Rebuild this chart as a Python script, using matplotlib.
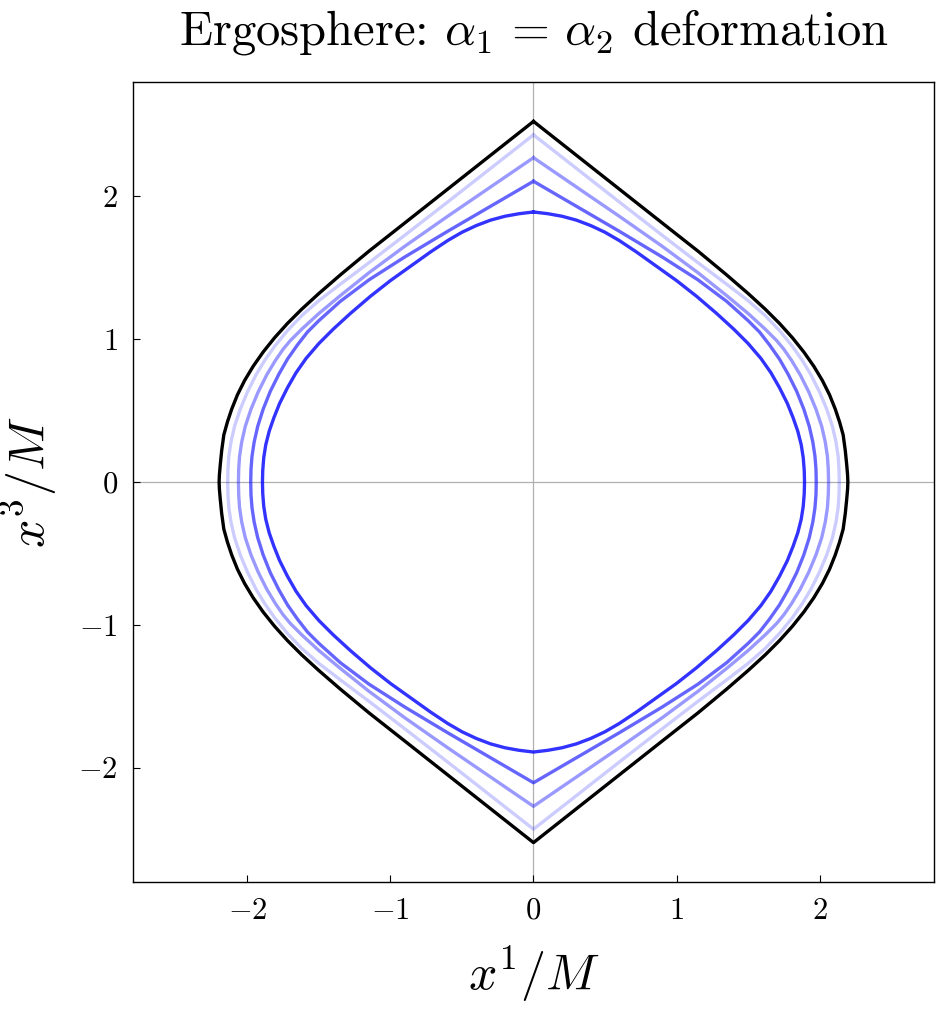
import numpy as np
import matplotlib.pyplot as plt

plt.rcParams['font.family'] = 'serif'
plt.rcParams['font.serif'] = ['cmr10']
plt.rcParams['mathtext.fontset'] = 'cm'
plt.rcParams['axes.formatter.use_mathtext'] = True

# Quadrant points (x1/M, x3/M), from the pole down to the equator.
# The full contour is symmetric in both axes.
kerr_x = [0.0, 0.3, 0.6, 0.9, 1.15, 1.35, 1.5, 1.62, 1.72, 1.81, 1.89, 1.96, 2.02, 2.07,
          2.11, 2.14, 2.165, 2.18, 2.19, 2.196, 2.198]
kerr_y = [2.524, 2.287, 2.05, 1.813, 1.616, 1.45, 1.32, 1.21, 1.11, 1.01, 0.91, 0.81, 0.71, 0.61,
          0.51, 0.42, 0.33, 0.22, 0.12, 0.05, 0.0]

def1_x = [0.0, 0.3, 0.6, 0.9, 1.15, 1.35, 1.5, 1.62, 1.72, 1.81, 1.88, 1.94, 2.0, 2.05,
          2.09, 2.115, 2.13, 2.136, 2.138]
def1_y = [2.43, 2.195, 1.96, 1.727, 1.535, 1.385, 1.27, 1.165, 1.06, 0.95, 0.85, 0.75, 0.63, 0.51,
          0.39, 0.28, 0.18, 0.09, 0.0]

def2_x = [0.0, 0.3, 0.6, 0.9, 1.15, 1.35, 1.5, 1.62, 1.70, 1.75, 1.805, 1.865, 1.925, 1.975,
          2.015, 2.04, 2.055, 2.061, 2.063]
def2_y = [2.27, 2.065, 1.86, 1.65, 1.465, 1.305, 1.18, 1.07, 0.99, 0.93, 0.85, 0.75, 0.63, 0.51,
          0.39, 0.28, 0.18, 0.09, 0.0]

def3_x = [0.0, 0.3, 0.6, 0.9, 1.15, 1.35, 1.5, 1.58, 1.65, 1.72, 1.78, 1.84, 1.89, 1.928,
          1.953, 1.968, 1.975, 1.977]
def3_y = [2.105, 1.93, 1.755, 1.575, 1.415, 1.265, 1.13, 1.05, 0.96, 0.86, 0.755, 0.635, 0.51, 0.39,
          0.28, 0.18, 0.09, 0.0]

def4_x = [0.0, 0.1, 0.2, 0.3, 0.4, 0.5, 0.6, 0.72, 0.86, 1.0, 1.14, 1.28, 1.4, 1.5,
          1.59, 1.66, 1.72, 1.775, 1.815, 1.848, 1.872, 1.886, 1.893, 1.895]
def4_y = [1.89, 1.878, 1.86, 1.833, 1.795, 1.748, 1.69, 1.61, 1.51, 1.41, 1.3, 1.18, 1.07, 0.97,
          0.865, 0.765, 0.66, 0.55, 0.45, 0.355, 0.26, 0.17, 0.08, 0.0]

curves = [
    (def1_x, def1_y, 'blue', 0.2),
    (def2_x, def2_y, 'blue', 0.4),
    (def3_x, def3_y, 'blue', 0.6),
    (def4_x, def4_y, 'blue', 0.8),
    (kerr_x, kerr_y, 'black', 1.0),
]


def full_contour(qx, qy):
    qx = np.asarray(qx)
    qy = np.asarray(qy)
    # right half: pole -> equator -> south pole
    rx = np.concatenate([qx, qx[::-1][1:]])
    ry = np.concatenate([qy, -qy[::-1][1:]])
    # left half mirrored, closing the loop
    x = np.concatenate([rx, -rx[::-1][1:]])
    y = np.concatenate([ry, ry[::-1][1:]])
    return x, y


fig = plt.figure(figsize=(9.38, 10.17), dpi=100)
ax = fig.add_axes([0.1418, 0.1327, 0.8539, 0.7867])

ax.axhline(0, color='#b0b0b0', lw=0.9, zorder=0)
ax.axvline(0, color='#b0b0b0', lw=0.9, zorder=0)

for qx, qy, col, a in curves:
    x, y = full_contour(qx, qy)
    ax.plot(x, y, color=col, alpha=a, lw=2.4, solid_joinstyle='round')

ax.set_xlim(-2.8, 2.8)
ax.set_ylim(-2.8, 2.8)
ax.set_xticks([-2, -1, 0, 1, 2])
ax.set_yticks([-2, -1, 0, 1, 2])
ax.tick_params(direction='in', length=5, width=0.8, labelsize=22, pad=11,
               top=False, right=False)
for s in ax.spines.values():
    s.set_linewidth(1.0)

ax.set_title(r'Ergosphere: $\alpha_1 \,=\, \alpha_2$ deformation', fontsize=35, pad=27)
ax.set_xlabel(r'$x^1/M$', fontsize=36, labelpad=14)
ax.set_ylabel(r'$x^3/M$', fontsize=36, labelpad=14)

fig.savefig('out.png', dpi=100)
